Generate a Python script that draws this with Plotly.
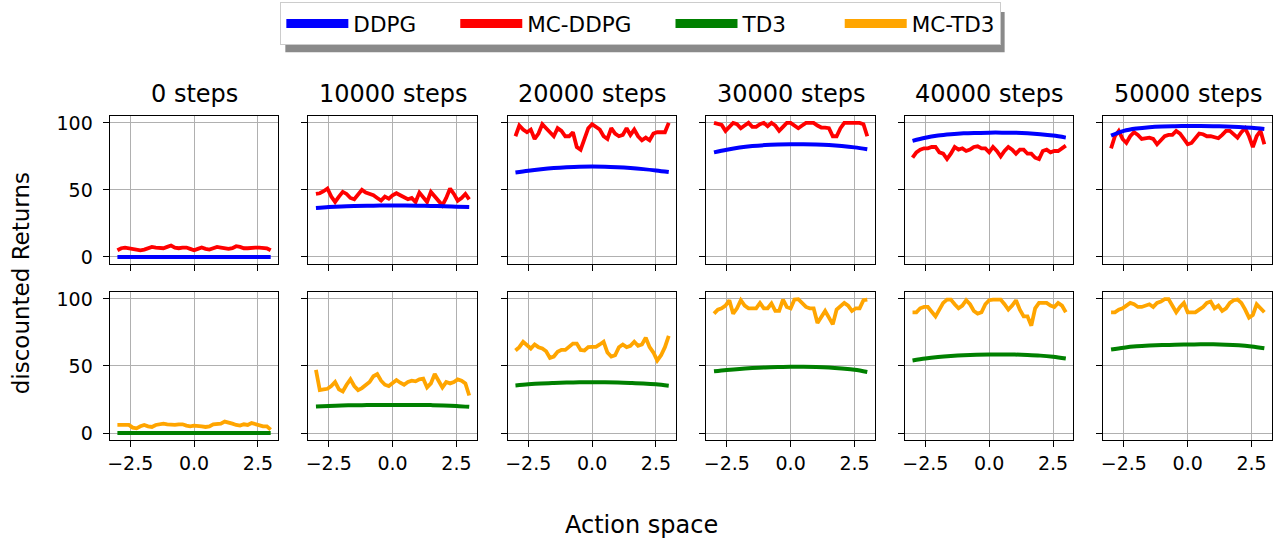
import plotly.graph_objects as go

# ---------------- data ----------------
steps = ["0 steps", "10000 steps", "20000 steps", "30000 steps", "40000 steps", "50000 steps"]

x_noisy = [round(-3 + 0.15 * i, 2) for i in range(41)]
x_smooth = [round(-3 + 0.5 * i, 2) for i in range(13)]

ddpg = [
    [0, 0, 0, 0, 0, 0, 0, 0, 0, 0, 0, 0, 0],
    [36.5, 37.2, 37.7, 38.0, 38.2, 38.3, 38.3, 38.3, 38.2, 38.0, 37.8, 37.5, 37.2],
    [63.0, 64.3, 65.4, 66.3, 66.9, 67.3, 67.4, 67.3, 66.9, 66.3, 65.5, 64.5, 63.3],
    [78.0, 80.0, 81.6, 82.7, 83.4, 83.8, 84.0, 84.0, 83.8, 83.4, 82.7, 81.7, 80.3],
    [86.6, 88.9, 90.5, 91.5, 92.2, 92.5, 92.7, 92.7, 92.6, 92.2, 91.5, 90.5, 89.0],
    [90.5, 94.0, 95.8, 96.8, 97.3, 97.5, 97.6, 97.6, 97.5, 97.3, 96.9, 96.3, 95.4],
]

mc_ddpg = [
    [5, 6.5, 7, 6.5, 6, 5.5, 5, 5.5, 6.5, 7.5, 7, 6.5, 6.5, 7.5, 8.5, 7, 6.5, 7, 7, 6, 5,
     6, 7, 6, 5.5, 6.5, 7.5, 7, 6.5, 6, 6.5, 8, 7.5, 6.5, 6.5, 7, 7, 7, 7, 6.5, 5],
    [47, 47.5, 49, 51, 45, 41, 45, 48.5, 47, 44, 43, 47, 50, 48, 47, 46, 44, 42, 45, 43.5, 46,
     47.5, 46, 44.5, 43, 44, 41, 48, 44, 41, 48.5, 45, 42, 38.5, 44, 51, 47, 42, 44, 47, 43],
    [90, 98, 95, 93, 95, 88, 92, 99, 96, 93, 90, 96, 94, 90, 90, 93, 82, 80, 88, 96, 99,
     97, 95, 90, 88, 96, 92, 90, 91, 96, 91, 95, 90, 87, 89, 87, 92, 93, 93, 93, 100],
    [100, 99.5, 98.5, 94, 97, 100, 99, 96, 98, 100, 97, 97, 99, 100, 97.5, 100, 98, 94, 97, 100, 100,
     98, 96, 98, 100, 100, 100, 98, 96.5, 96.5, 96, 90, 90, 96, 100, 100, 100, 100, 100, 99, 90],
    [74, 78, 80, 81, 81, 82, 82, 78, 77, 73, 77, 82, 80, 81, 79, 80, 82, 82.5, 81, 81, 78,
     82, 79, 75, 79, 82, 80, 77, 80, 80, 77, 77, 74, 73, 79, 80, 78, 79, 79, 81, 83],
    [81, 90, 94, 88, 85, 90, 93, 91, 88, 88.5, 89, 88, 84, 87, 90, 91, 91, 94, 92, 88, 84,
     85, 89, 92, 91.5, 90, 90, 89, 88.5, 91, 94, 94, 91, 89, 93, 96, 90, 82, 90, 94, 84],
]

td3 = [
    [0, 0, 0, 0, 0, 0, 0, 0, 0, 0, 0, 0, 0],
    [19.8, 20.2, 20.5, 20.7, 20.8, 20.9, 20.9, 20.9, 20.9, 20.8, 20.6, 20.2, 19.5],
    [35.5, 36.3, 36.9, 37.3, 37.6, 37.8, 37.9, 37.8, 37.6, 37.3, 36.9, 36.3, 35.3],
    [46.0, 47.0, 47.8, 48.4, 48.9, 49.2, 49.4, 49.4, 49.2, 48.8, 48.1, 47.2, 45.5],
    [54.0, 55.5, 56.6, 57.4, 58.0, 58.4, 58.6, 58.6, 58.5, 58.2, 57.7, 56.8, 55.5],
    [62.2, 63.6, 64.6, 65.2, 65.6, 65.9, 66.0, 66.1, 66.1, 65.9, 65.4, 64.5, 63.2],
]

mc_td3 = [
    [6, 6, 6.5, 6, 4, 3.5, 5, 6, 5, 4.5, 6, 6.5, 7, 6.5, 6, 6, 6.5, 6.5, 5.5, 5, 5.5,
     5.5, 5, 4.5, 5, 6.5, 6.5, 7, 8.5, 8, 7, 6, 5.5, 6.5, 6, 7.5, 6.5, 6, 5, 5, 2.5],
    [47, 32, 32.5, 33, 35, 38, 32.5, 31, 36, 40, 35, 32, 33.5, 35.5, 38, 42.3, 44, 39, 36, 35, 37,
     39.5, 37.5, 36, 38, 39, 38.5, 40, 40.5, 34, 37, 44, 39, 34, 38, 37, 38, 40, 39, 37, 28],
    [61.5, 64, 68, 65, 63, 66, 64, 63, 61, 56, 57, 60.5, 62, 62, 64.8, 66.7, 66.7, 61.9, 61.5, 64, 64.3,
     64.3, 66, 68, 60, 57, 58, 64, 66, 64, 65, 68, 65, 66, 71, 64, 60, 54, 58, 64, 72.5],
    [89, 92, 93, 95, 99, 89, 93, 99, 95, 93, 93, 93, 97, 93, 93, 96.6, 91, 91, 99.5, 94, 93,
     99.5, 99.8, 97, 94, 93, 93, 82, 86, 91, 86, 81, 92, 95, 97, 95, 91, 93, 93, 99, 99.5],
    [90, 90, 93, 94, 94, 90, 87, 92, 97, 99.5, 99.5, 96, 93, 95, 99, 96, 91, 89, 90, 96, 99,
     99.5, 99.5, 99.5, 96, 92, 95, 99, 92, 87, 87, 80, 93, 97, 97, 97, 95, 94, 97, 95, 90],
    [90, 90, 92, 93, 95, 97, 96, 94, 94, 95, 96, 94, 97, 98, 99.8, 99.8, 95, 90, 94, 97, 90,
     90, 90, 92, 94, 97, 98, 93, 95, 91, 93, 97, 99, 99.5, 97, 92, 86, 88, 96, 93, 90],
]

series_names = ["DDPG", "MC-DDPG", "TD3", "MC-TD3"]
series_colors = ["#0000ff", "#ff0000", "#008000", "#ffa500"]

x_ticks = [-2.5, 0.0, 2.5]
y_ticks = [0, 50, 100]

# ---------------- layout geometry ----------------
W, H = 1274, 546
panel_left = [107, 306, 506, 705, 904, 1103]
panel_w = 169
row_top = [113, 292]
panel_h = 150

FONT = "DejaVu Sans"
fig = go.Figure()

def ax_name(r, c):
    return r * 6 + c + 1

for r in range(2):
    for c in range(6):
        n = ax_name(r, c)
        xa = "x" if n == 1 else f"x{n}"
        ya = "y" if n == 1 else f"y{n}"
        if r == 0:
            smooth, noisy, si, ni = ddpg[c], mc_ddpg[c], 0, 1
        else:
            smooth, noisy, si, ni = td3[c], mc_td3[c], 2, 3
        fig.add_trace(go.Scatter(x=x_noisy, y=noisy, mode="lines", xaxis=xa, yaxis=ya,
                                 line=dict(color=series_colors[ni], width=3.8),
                                 showlegend=False, hoverinfo="skip"))
        fig.add_trace(go.Scatter(x=x_smooth, y=smooth, mode="lines", xaxis=xa, yaxis=ya,
                                 line=dict(color=series_colors[si], width=4, shape="spline"),
                                 showlegend=False, hoverinfo="skip"))
        x0 = panel_left[c] / W
        x1 = (panel_left[c] + panel_w) / W
        y1 = 1 - row_top[r] / H
        y0 = 1 - (row_top[r] + panel_h) / H
        common = dict(showline=True, mirror=True, linecolor="black", linewidth=1.4,
                      ticks="outside", ticklen=6, tickwidth=1.4, tickcolor="black",
                      showgrid=True, gridcolor="#b0b0b0", gridwidth=1.4, zeroline=False,
                      tickfont=dict(family=FONT, size=19, color="black"))
        fig.layout[f"xaxis{n}"] = dict(domain=[x0, x1], anchor=ya, range=[-3.3, 3.3],
                                       tickvals=x_ticks, ticktext=["\u22122.5", "0.0", "2.5"],
                                       showticklabels=(r == 1), **common)
        fig.layout[f"yaxis{n}"] = dict(domain=[y0, y1], anchor=xa, range=[-5, 105],
                                       tickvals=y_ticks, showticklabels=(c == 0),
                                       ticklabelstandoff=6, **common)
        if r == 0:
            fig.add_annotation(text=steps[c], x=(x0 + x1) / 2, y=1 - 90 / H, xref="paper", yref="paper",
                               showarrow=False, xanchor="center", yanchor="middle",
                               font=dict(family=FONT, size=24, color="black"))

# legend entries (trailing non-breaking spaces emulate the column spacing)
pads = [5, 5, 7, 0]
for name, col, p in zip(series_names, series_colors, pads):
    fig.add_trace(go.Scatter(x=[None], y=[None], mode="lines", name=name + "\u00a0" * p,
                             line=dict(color=col, width=9)))

fig.add_annotation(text="discounted Returns", x=18 / W, y=1 - 283 / H, xref="paper", yref="paper",
                   showarrow=False, textangle=-90, xanchor="center", yanchor="middle",
                   font=dict(family=FONT, size=23, color="black"))
fig.add_annotation(text="Action space", x=640 / W, y=1 - 529 / H, xref="paper", yref="paper",
                   showarrow=False, xanchor="center", yanchor="middle",
                   font=dict(family=FONT, size=24, color="black"))

# legend shadow
fig.add_shape(type="rect", xref="paper", yref="paper",
              x0=283 / W, x1=1004 / W, y0=1 - 48 / H, y1=1 - 7 / H,
              fillcolor="#8a8a8a", line=dict(width=0), layer="below")

fig.update_layout(
    width=W, height=H,
    margin=dict(l=0, r=0, t=0, b=0),
    paper_bgcolor="white", plot_bgcolor="white",
    legend=dict(orientation="h", x=278 / W, xanchor="left", y=1 + 3 / H, yanchor="top",
                font=dict(family=FONT, size=21.5, color="black"),
                bgcolor="white", bordercolor="#cccccc", borderwidth=1,
                itemwidth=62),
)

fig.write_html("out.html")
